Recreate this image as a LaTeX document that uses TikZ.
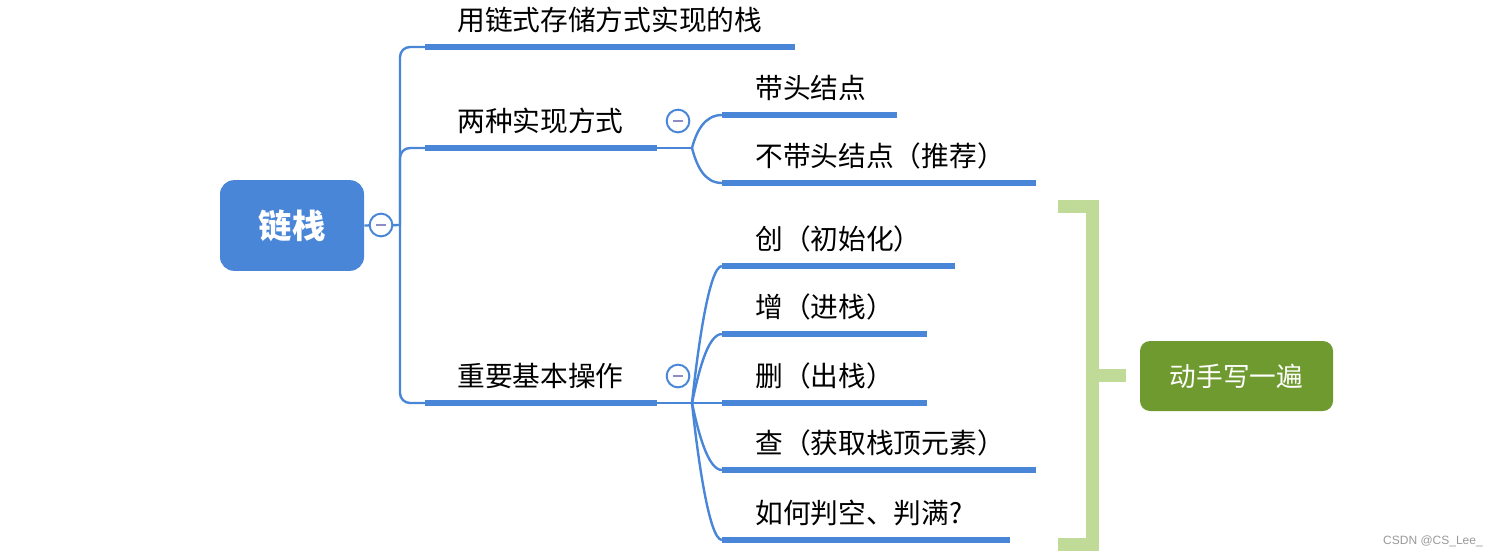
\documentclass[tikz,border=0pt]{standalone}
\usepackage{fontspec}
\setmainfont{Noto Sans CJK SC}
\newfontfamily\wmfont{Liberation Sans}
\usetikzlibrary{positioning}
\definecolor{mapblue}{HTML}{4A86D8}
\definecolor{foldminus}{HTML}{8C8CC8}
\definecolor{bracegreen}{HTML}{BFDB97}
\definecolor{taskgreen}{HTML}{6F9A2F}
\tikzset{
  root/.style={rectangle, fill=mapblue, text=white, rounded corners=10.5pt,
    minimum width=108pt, minimum height=68pt, inner sep=0pt,
    font=\fontsize{25}{30}\selectfont\bfseries},
  fold/.style={circle, draw=mapblue, line width=1.5pt, fill=white,
    minimum size=17pt, inner sep=0pt,
    path picture={\draw[foldminus, line width=1.3pt]
      ([xshift=-3.8pt]path picture bounding box.center) --
      ([xshift=3.8pt]path picture bounding box.center);}},
  lbl/.style={anchor=west, inner sep=0pt, font=\fontsize{20.8}{24}\selectfont},
  uline/.style={draw=mapblue, line width=5pt},
  link/.style={draw=mapblue, line width=1.8pt},
  brace/.style={draw=bracegreen, line width=9.75pt},
  task/.style={rectangle, fill=taskgreen, text=white, rounded corners=7.5pt,
    minimum width=144.75pt, minimum height=52.5pt, inner sep=0pt,
    font=\fontsize{20}{24}\selectfont}
}
\begin{document}
\begin{tikzpicture}[x=0.75pt, y=-0.75pt]
\useasboundingbox (0,0) rectangle (1497,557);

% root
\node[root] (root) at (292,225.5) {链栈};
\coordinate (hub0) at (400,225);

% first level
\draw[uline] (425,47) coordinate (u1) -- (795,47);
\node[lbl] (t1) at (457,20) {用链式存储方式实现的栈};
\draw[uline] (425,148) coordinate (u2) -- (657,148) coordinate (u2e);
\node[lbl] (t2) at (457,121) {两种实现方式};
\draw[uline] (425,403) coordinate (u3) -- (657,403) coordinate (u3e);
\node[lbl] (t3) at (457,376) {重要基本操作};

\draw[link] (root.east) -- (hub0);
\draw[link, rounded corners=7.5pt] (hub0) |- (u1);
\draw[link, rounded corners=7.5pt] (hub0) |- (u2);
\draw[link, rounded corners=7.5pt] (hub0) |- (u3);
\node[fold] (f0) at (381,225) {};

% two ways
\coordinate (hub1) at (692,148);
\draw[uline] (722,115) coordinate (w1) -- (897,115);
\node[lbl] (s1) at (755,88) {带头结点};
\draw[uline] (722,183) coordinate (w2) -- (1036,183);
\node[lbl] (s2) at (755,156) {不带头结点（推荐）};
\draw[link] (u2e) -- (hub1);
\draw[link] (hub1) to[out=75, in=180] (w1);
\draw[link] (hub1) to[out=-75, in=180] (w2);
\node[fold] (f1) at (678,121) {};

% operations
\coordinate (hub2) at (692,403);
\draw[uline] (722,266) coordinate (o1) -- (955,266);
\node[lbl] (p1) at (755,239) {创（初始化）};
\draw[uline] (722,334) coordinate (o2) -- (927,334);
\node[lbl] (p2) at (755,307) {增（进栈）};
\draw[uline] (722,403) coordinate (o3) -- (927,403);
\node[lbl] (p3) at (755,376) {删（出栈）};
\draw[uline] (722,470) coordinate (o4) -- (1036,470);
\node[lbl] (p4) at (755,443) {查（获取栈顶元素）};
\draw[uline] (722,540) coordinate (o5) -- (1010,540);
\node[lbl] (p5) at (755,513) {如何判空、判满?};
\draw[link] (u3e) -- (o3);
\draw[link] (hub2) to[out=84, in=180, out looseness=0.8, in looseness=0.25] (o1);
\draw[link] (hub2) to[out=78, in=180, in looseness=0.5] (o2);
\draw[link] (hub2) to[out=-78, in=180, in looseness=0.5] (o4);
\draw[link] (hub2) to[out=-84, in=180, out looseness=0.8, in looseness=0.25] (o5);
\node[fold] (f2) at (678,376) {};

% summary bracket
\node[task] (task) at (1236.5,376) {动手写一遍};
\draw[brace] (1058,206.5) -| (1092,544) -- (1058,544);
\draw[brace] (1092,375.5) -- (1126,375.5) coordinate (tip);

% watermark
\node[inner sep=0pt, text=black!40, font=\wmfont\fontsize{9}{11}\selectfont] (wm) at (1433,541) {CSDN @CS\_Lee\_};
\end{tikzpicture}
\end{document}
